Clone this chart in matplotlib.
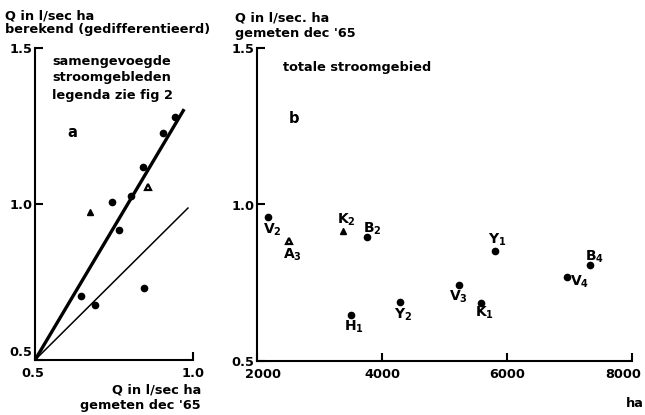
import matplotlib
matplotlib.use("Agg")
import matplotlib.pyplot as plt
from matplotlib.transforms import ScaledTranslation

# panel a: Q berekend vs Q gemeten (l/sec ha)
a_dot_x = [0.943, 0.905, 0.842, 0.804, 0.744, 0.766, 0.845, 0.646, 0.690]
a_dot_y = [1.279, 1.228, 1.119, 1.026, 1.006, 0.917, 0.731, 0.705, 0.676]
a_open_tri = (0.858, 1.054)
a_fill_tri = (0.674, 0.974)
a_thick_line = ([0.5, 0.972], [0.5, 1.304])
a_thin_line = ([0.5, 0.984], [0.5, 0.987])

# panel b: Q gemeten vs area (ha)
b_names = ['V2', 'A3', 'K2', 'B2', 'H1', 'Y2', 'Y1', 'B4', 'V4', 'V3', 'K1']
b_area = [2176, 2512, 3376, 3760, 3504, 4288, 5808, 7328, 6960, 5232, 5584]
b_q = [0.960, 0.883, 0.915, 0.896, 0.647, 0.689, 0.851, 0.807, 0.768, 0.743, 0.685]
b_marker = ['dot', 'open', 'tri', 'dot', 'dot', 'dot', 'dot', 'dot', 'dot', 'dot', 'dot']

# label offsets in pixels (dx right, dy down)
b_label_off = [(4, 13), (3, 14), (3, -11), (5, -8), (3, 12), (3, 13),
               (2, -11), (5, -8), (13, 5), (-1, 12), (4, 10)]

plt.rcParams['font.family'] = 'DejaVu Sans'
plt.rcParams['font.weight'] = 'bold'
plt.rcParams['mathtext.default'] = 'bf'
FS = 9.3
px = 72 / 100.0

fig = plt.figure(figsize=(6.45, 4.15), dpi=100)


def style_axes(ax):
    for s in ['top', 'right']:
        ax.spines[s].set_visible(False)
    for s in ['left', 'bottom']:
        ax.spines[s].set_linewidth(1.5)
    ax.tick_params(direction='in', length=6, width=1.5, labelsize=FS, pad=2)
    ax.tick_params(axis='x', pad=5)


def shift_label(lab, dx, dy):
    # move a tick label by (dx, dy) pixels
    lab.set_transform(lab.get_transform() + ScaledTranslation(dx / 100, -dy / 100, fig.dpi_scale_trans))


# ---- panel a ----
ax1 = fig.add_axes([35 / 645, 55 / 415, 158 / 645, 312 / 415])
style_axes(ax1)
ax1.set_xlim(0.5, 1.0)
ax1.set_ylim(0.5, 1.5)
ax1.set_xticks([0.5, 1.0])
ax1.set_xticklabels(['0.5', '1.0'])
ax1.set_yticks([0.5, 1.0, 1.5])
ax1.set_yticklabels(['0.5', '1.0', '1.5'])
shift_label(ax1.get_yticklabels()[0], 0, -9)
shift_label(ax1.get_xticklabels()[0], -2, 0)
ax1.plot(*a_thick_line, color='black', lw=2.4, solid_capstyle='butt')
ax1.plot(*a_thin_line, color='black', lw=1.1)
ax1.plot(a_dot_x, a_dot_y, 'o', color='black', ms=4.5, clip_on=False)
ax1.plot(*a_fill_tri, '^', color='black', ms=5)
ax1.plot(*a_open_tri, '^', mfc='white', mec='black', mew=1.6, ms=4.5)
ax1.text(0.234, 0.73, 'a', transform=ax1.transAxes, fontsize=10.5, ha='center', va='center')

fig.text(5 / 645, 1 - 16 / 415, 'Q in l/sec ha', fontsize=FS, va='center')
fig.text(5 / 645, 1 - 30 / 415, 'berekend (gedifferentieerd)', fontsize=FS, va='center')
fig.text(52 / 645, 1 - 62 / 415, 'samengevoegde', fontsize=FS, va='center')
fig.text(52 / 645, 1 - 77 / 415, 'stroomgebleden', fontsize=FS, va='center')
fig.text(52 / 645, 1 - 95 / 415, 'legenda zie fig 2', fontsize=FS, va='center')
fig.text(201 / 645, 1 - 390 / 415, 'Q in l/sec ha', fontsize=FS, va='center', ha='right')
fig.text(201 / 645, 1 - 405 / 415, "gemeten dec '65", fontsize=FS, va='center', ha='right')

# ---- panel b ----
ax2 = fig.add_axes([257 / 645, 54 / 415, 375 / 645, 313 / 415])
style_axes(ax2)
ax2.set_xlim(2000, 8000)
ax2.set_ylim(0.5, 1.5)
ax2.set_xticks([2000, 4000, 6000, 8000])
ax2.set_yticks([0.5, 1.0, 1.5])
ax2.set_yticklabels(['0.5', '1.0', '1.5'])
shift_label(ax2.get_xticklabels()[0], 6, 0)
shift_label(ax2.get_xticklabels()[3], -9, 0)

for name, x, y, m, (dx, dy) in zip(b_names, b_area, b_q, b_marker, b_label_off):
    if m == 'dot':
        ax2.plot(x, y, 'o', color='black', ms=4.5)
    elif m == 'tri':
        ax2.plot(x, y, '^', color='black', ms=5)
    else:
        ax2.plot(x, y, '^', mfc='white', mec='black', mew=1.6, ms=4.5)
    label = name[0] + '$_{' + name[1] + '}$'
    ax2.annotate(label, (x, y), xytext=(dx * px, -dy * px), textcoords='offset points',
                 ha='center', va='center', fontsize=10)

ax2.text(0.10, 0.776, 'b', transform=ax2.transAxes, fontsize=10.5, ha='center', va='center')
fig.text(235 / 645, 1 - 18 / 415, 'Q in l/sec. ha', fontsize=FS, va='center')
fig.text(235 / 645, 1 - 33 / 415, "gemeten dec '65", fontsize=FS, va='center')
fig.text(283 / 645, 1 - 67 / 415, 'totale stroomgebied', fontsize=FS, va='center')
fig.text(635 / 645, 1 - 403 / 415, 'ha', fontsize=FS, va='center', ha='center')

fig.savefig('out.png', dpi=100)
